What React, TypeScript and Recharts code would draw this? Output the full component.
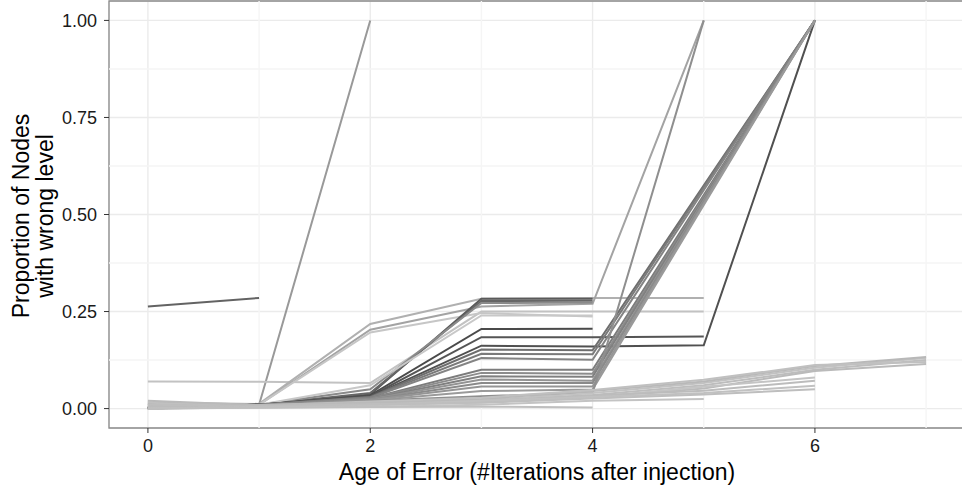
import React from 'react';
import {
  CartesianGrid,
  Line,
  LineChart,
  ReferenceArea,
  ReferenceLine,
  XAxis,
  YAxis,
} from 'recharts';

// x axis: age of the error, in iterations after injection
const ages = [0, 1, 2, 3, 4, 5, 6, 7];
const xTicks = [0, 2, 4, 6];
const xMinor = [1, 3, 5, 7];
const yTicks = [0, 0.25, 0.5, 0.75, 1];
const yMinor = [0.125, 0.375, 0.625, 0.875];

// one array per run, value at each age (null = run not observed)
const runs: Array<Array<number | null>> = [
  [0.263, 0.285],
  [0.012, 0.01, 1.0],
  [0.07, 0.069, 0.066, 0.25, 0.25, 0.25],
  [0.016, 0.012, 0.218, 0.283, 0.285, 0.285],
  [0.01, 0.01, 0.203, 0.263, 0.27, 1.0],
  [0.006, 0.01, 0.196, 0.246, 0.237],
  [0.004, 0.01, 0.036, 0.283, 0.283],
  [0.003, 0.01, 0.04, 0.277, 0.278],
  [0.002, 0.01, 0.05, 0.272, 0.273],
  [0.0, 0.01, 0.06, 0.24, 0.24],
  [0.003, 0.01, 0.034, 0.205, 0.206],
  [0.002, 0.01, 0.032, 0.184, 0.184, 0.186],
  [0.001, 0.01, 0.031, 0.162, 0.16, 0.163, 1.0],
  [0.002, 0.01, 0.03, 0.152, 0.15, null, 1.0],
  [0.001, 0.01, 0.029, 0.141, 0.14, null, 1.0],
  [0.001, 0.009, 0.028, 0.13, 0.126, null, 1.0],
  [0.001, 0.009, 0.027, 0.1, 0.1, null, 1.0],
  [0.0, 0.009, 0.026, 0.092, 0.09, null, 1.0],
  [0.0, 0.008, 0.025, 0.083, 0.082, null, 1.0],
  [0.0, 0.008, 0.024, 0.075, 0.072, null, 1.0],
  [0.0, 0.008, 0.023, 0.066, 0.066, null, 1.0],
  [0.0, 0.007, 0.022, 0.057, 0.057, null, 1.0],
  [0.0, 0.007, 0.021, 0.045, 0.049, null, 1.0],
  [0.0, 0.007, 0.02, 0.032, 0.04, 1.0],
  [0.0, 0.004, 0.01, 0.02, 0.035, 0.06, 0.1, 0.125],
  [0.005, 0.005, 0.012, 0.022, 0.04, 0.066, 0.105, 0.13],
  [0.01, 0.007, 0.015, 0.025, 0.045, 0.07, 0.11, 0.133],
  [0.015, 0.008, 0.018, 0.028, 0.048, 0.074, 0.112, 0.12],
  [0.02, 0.009, 0.016, 0.02, 0.03, 0.052, 0.097, 0.115],
  [0.0, 0.003, 0.008, 0.016, 0.03, 0.056, 0.08],
  [0.005, 0.005, 0.01, 0.018, 0.034, 0.046, 0.072],
  [0.0, 0.004, 0.01, 0.02, 0.03, 0.04, 0.059],
  [0.01, 0.006, 0.011, 0.015, 0.026, 0.036, 0.05],
  [0.0, 0.003, 0.005, 0.01, 0.02, 0.025],
  [0.0, 0.002, 0.004, 0.005, 0.003],
];

const runShades = [
  '#636363', '#999999', '#c2c2c2', '#b0b0b0', '#a3a3a3', '#c6c6c6',
  '#5a5a5a', '#666666', '#8a8a8a', '#c8c8c8', '#4a4a4a', '#555555',
  '#505050', '#6e6e6e', '#7a7a7a', '#848484', '#7c7c7c', '#8c8c8c',
  '#808080', '#939393', '#8a8a8a', '#959595', '#9a9a9a', '#8f8f8f',
  '#bdbdbd', '#c2c2c2', '#b8b8b8', '#c0c0c0', '#bababa', '#c4c4c4',
  '#bcbcbc', '#c1c1c1', '#bebebe', '#c3c3c3', '#bfbfbf',
];

const data = ages.map((age, i) => {
  const row: Record<string, number | null> = { age };
  runs.forEach((r, k) => {
    row[`r${k}`] = r[i] ?? null;
  });
  return row;
});

const FONT = '"Liberation Sans", Arial, Helvetica, sans-serif';

const App = () => {
  return (
    <div
      style={{
        position: 'absolute',
        left: 0,
        top: 0,
        width: 962,
        height: 488,
        overflow: 'hidden',
        background: '#fff',
        fontFamily: FONT,
      }}>
      <LineChart
        data={data}
        height={488}
        margin={{ top: 1, right: 15, bottom: 0, left: 0 }}
        width={980}>
        <CartesianGrid stroke="#ebebeb" strokeWidth={1.4} />
        {xMinor.map((v) => (
          <ReferenceLine
            key={`vx${v}`}
            stroke="#f5f5f5"
            strokeWidth={1.4}
            x={v}
          />
        ))}
        {yMinor.map((v) => (
          <ReferenceLine
            key={`hy${v}`}
            stroke="#f5f5f5"
            strokeWidth={1.4}
            y={v}
          />
        ))}
        <XAxis
          allowDataOverflow
          axisLine={false}
          dataKey="age"
          domain={[-0.35, 7.35]}
          height={60}
          label={{
            content: (props: any) => {
              const vb = props.viewBox || {};
              return (
                <text
                  fill="#000"
                  fontFamily={FONT}
                  fontSize={23}
                  textAnchor="middle"
                  x={(vb.x ?? 109) + (vb.width ?? 856) / 2}
                  y={480}>
                  Age of Error (#Iterations after injection)
                </text>
              );
            },
          }}
          tick={{ fill: '#1a1a1a', fontSize: 18, fontFamily: FONT }}
          tickLine={{ stroke: '#333' }}
          tickMargin={6}
          tickSize={5}
          ticks={xTicks}
          type="number"
        />
        <YAxis
          allowDataOverflow
          axisLine={false}
          domain={[-0.05, 1.05]}
          label={{
            content: () => (
              <text
                fill="#000"
                fontFamily={FONT}
                fontSize={23}
                textAnchor="middle"
                transform="translate(0,216) rotate(-90)">
                <tspan x={0} y={29}>
                  Proportion of Nodes
                </tspan>
                <tspan x={0} y={53}>
                  with wrong level
                </tspan>
              </text>
            ),
          }}
          tick={{ fill: '#1a1a1a', fontSize: 18, fontFamily: FONT }}
          tickFormatter={(v: number) => v.toFixed(2)}
          tickLine={{ stroke: '#333' }}
          tickMargin={7}
          tickSize={5}
          ticks={yTicks}
          type="number"
          width={109}
        />
        {runs.map((_, k) => (
          <Line
            connectNulls
            dataKey={`r${k}`}
            dot={false}
            isAnimationActive={false}
            key={`r${k}`}
            stroke={runShades[k]}
            strokeWidth={2}
            type="linear"
          />
        ))}
        <ReferenceArea
          fill="none"
          stroke="#8a8a8a"
          strokeWidth={1.3}
          x1={-0.35}
          x2={7.35}
          y1={-0.05}
          y2={1.05}
        />
      </LineChart>
    </div>
  );
};

export default App;
